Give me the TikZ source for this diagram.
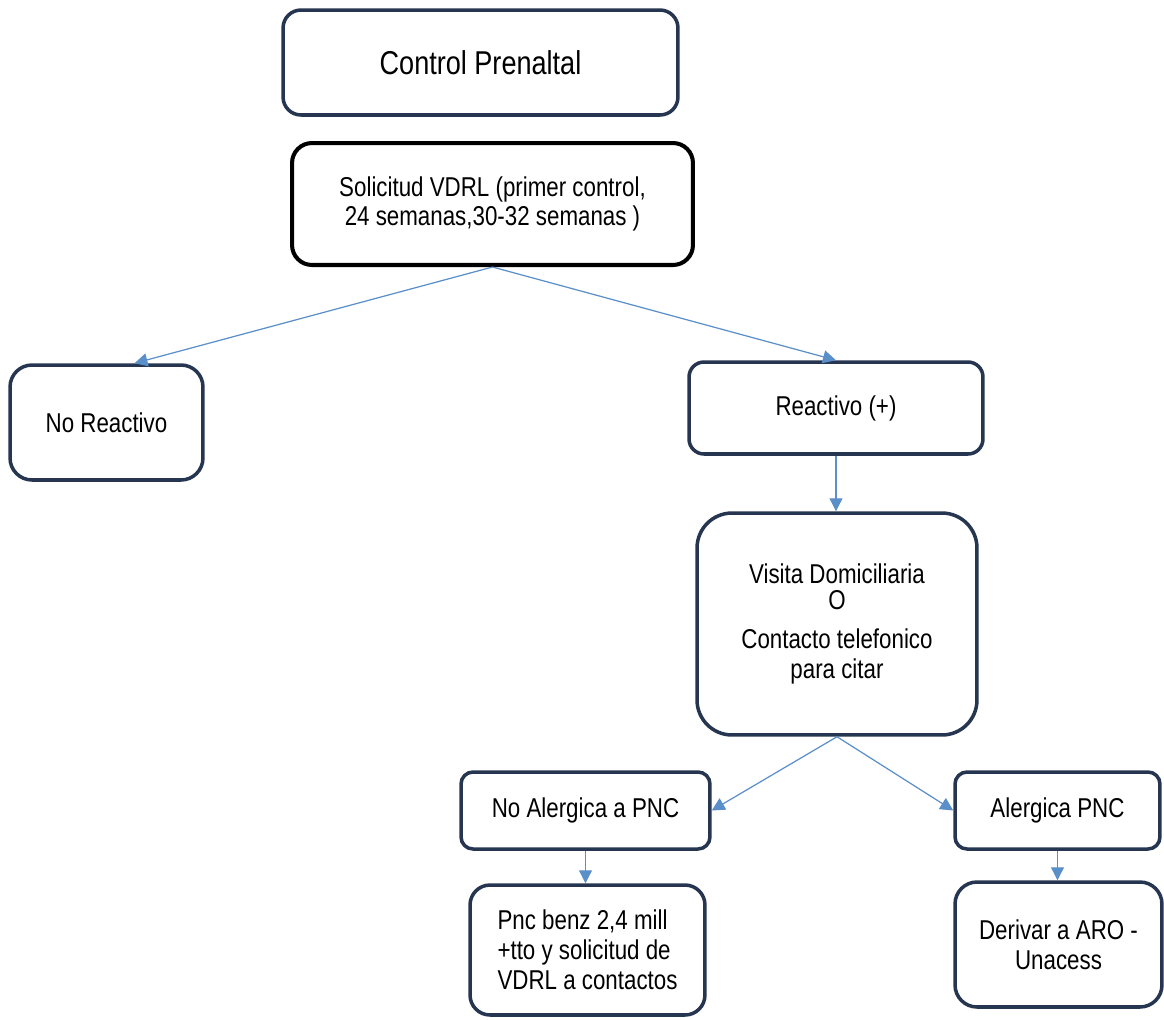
\documentclass[tikz,border=0pt]{standalone}
\usepackage{fontspec}
\setmainfont[FakeStretch=0.82]{Liberation Sans}
\usepackage{tikz}
\usetikzlibrary{arrows.meta}
\definecolor{boxline}{RGB}{38,53,80}
\definecolor{arrowblue}{RGB}{91,143,201}
\tikzset{
  box/.style={draw=boxline, line width=2pt, rounded corners=0.3cm, fill=white,
    inner sep=2pt, font=\fontsize{15.5}{17}\selectfont, align=center},
  arr/.style={draw=arrowblue, line width=0.7pt,
    -{Triangle[length=0.26cm,width=0.26cm]}}
}

\begin{document}
\begin{tikzpicture}[x=0.02cm, y=-0.02cm]
            \useasboundingbox (0,0) rectangle (1164,1019);
            \node[box, minimum width=7.9cm, minimum height=2.1cm, rounded corners=0.36cm,
              font=\fontsize{18.8}{20}\selectfont] (ctrl) at (480.5,62.5) {Control Prenaltal};
            \node[box, draw=black, line width=2.3pt, minimum width=8.02cm, minimum height=2.44cm,
              rounded corners=0.4cm] (vdrl) at (492.5,204) {Solicitud VDRL (primer control,\\24 semanas,30-32 semanas )};
            \node[box, minimum width=3.86cm, minimum height=2.3cm, rounded corners=0.44cm] (noreac) at (106.5,422.5) {No Reactivo};
            \node[box, minimum width=5.88cm, minimum height=1.84cm] (reac) at (836,408) {Reactivo (+)};
            \draw[arr] (vdrl.south) -- ([xshift=0.56cm]noreac.north);
            \draw[arr] (vdrl.south) -- (reac.north);

            \node[box, minimum width=5.6cm, minimum height=4.44cm, rounded corners=0.7cm] (visita) at (837,624)
              {Visita Domiciliaria\\[-2pt]O\\[5pt]Contacto telefonico\\para citar};
            \draw[arr] (reac.south) -- (reac.south |- visita.north);

            \node[box, minimum width=4.98cm, minimum height=1.54cm, rounded corners=0.24cm] (noalerg) at (585.5,810.5) {No Alergica a PNC};
            \node[box, minimum width=4.1cm, minimum height=1.54cm, rounded corners=0.24cm] (alerg) at (1057.5,810.5) {Alergica PNC};
            \draw[arr] (visita.south) -- (noalerg.east);
            \draw[arr] (visita.south) -- (alerg.west);

            \node[box, align=left, minimum width=4.7cm, minimum height=2.6cm, rounded corners=0.4cm] (pnc) at (587.5,950)
              {Pnc benz 2,4 mill\\+tto y solicitud de\\VDRL a contactos};
            \node[box, minimum width=4.14cm, minimum height=2.5cm, rounded corners=0.44cm] (derivar) at (1058.5,944.5)
              {Derivar a ARO -\\Unacess};
            \draw[arr] (noalerg.south) -- (noalerg.south |- pnc.north);
            \draw[arr] (alerg.south) -- (alerg.south |- derivar.north);
        \end{tikzpicture}
\end{document}
